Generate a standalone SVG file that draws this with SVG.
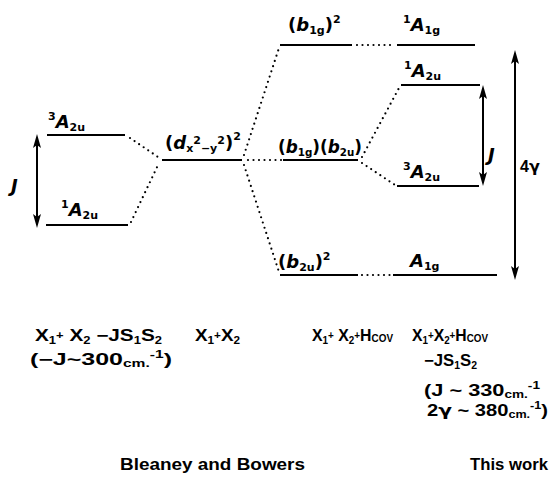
<svg xmlns="http://www.w3.org/2000/svg" width="555" height="480" viewBox="0 0 555 480">
<style>
.lvl{stroke:#000;stroke-width:2;fill:none}
.dot{stroke:#000;stroke-width:2.2;stroke-linecap:round;stroke-dasharray:0 5.5;fill:none}
.arr{stroke:#000;stroke-width:2;fill:none;marker-start:url(#ah);marker-end:url(#ah)}
.lb{font-family:"DejaVu Sans",sans-serif;font-style:italic;font-weight:bold;font-size:18px;fill:#000}
.tx{font-family:"Liberation Sans",Arial,sans-serif;font-weight:bold;font-size:16px;fill:#000}
.g{font-family:"DejaVu Sans",sans-serif}
.s{font-size:11px;font-style:normal}
.ss{font-size:10px}
</style>
<defs>
<marker id="ah" viewBox="0 0 14 8" refX="10" refY="4" markerWidth="14" markerHeight="8" markerUnits="userSpaceOnUse" orient="auto-start-reverse"><path d="M0,0 L14,4 L0,8 L3,4 z" fill="#000"/></marker>
</defs>
<g id="connectors">
<path class="dot" d="M130,138 L158,157"/>
<path class="dot" d="M131,222 L159,163"/>
<path class="dot" d="M244,155 L279,48"/>
<path class="dot" d="M248,160 L282,160"/>
<path class="dot" d="M244,165 L279,272"/>
<path class="dot" d="M357,45 L394,45"/>
<path class="dot" d="M362,157 L399,88"/>
<path class="dot" d="M362,163 L395,185"/>
<path class="dot" d="M362,275 L391,275"/>
<line class="arr" x1="37" y1="138" x2="37" y2="224"/>
<line class="arr" x1="483" y1="89" x2="483" y2="182"/>
<line class="arr" x1="515" y1="54" x2="515" y2="276"/>
</g>
<g id="left-3A2u">
<line class="lvl" x1="47" y1="135" x2="125" y2="135"/>
<text class="lb" x="48" y="128"><tspan class="s" dy="-8">3</tspan><tspan dy="8">A</tspan><tspan class="s" dy="3">2u</tspan></text>
</g>
<g id="left-1A2u">
<line class="lvl" x1="46" y1="225" x2="128" y2="225"/>
<text class="lb" x="61" y="216"><tspan class="s" dy="-8">1</tspan><tspan dy="8">A</tspan><tspan class="s" dy="3">2u</tspan></text>
</g>
<g id="left-J"><text class="lb" x="11" y="192" font-size="20">J</text></g>
<g id="center-d">
<line class="lvl" x1="162" y1="160" x2="242" y2="160"/>
<text class="lb" x="165" y="149"><tspan font-style="normal">(</tspan>d<tspan class="s" dy="3" font-style="italic">x</tspan><tspan class="s" dy="-8">2</tspan><tspan class="s" dy="8" font-style="italic">−y</tspan><tspan class="s" dy="-8">2</tspan><tspan dy="5" font-style="normal">)</tspan><tspan class="s" dy="-9">2</tspan></text>
</g>
<g id="b1g2">
<line class="lvl" x1="280" y1="45" x2="352" y2="45"/>
<text class="lb" x="288" y="31"><tspan font-style="normal">(</tspan>b<tspan class="s" dy="3">1g</tspan><tspan dy="-3" font-style="normal">)</tspan><tspan class="s" dy="-8">2</tspan></text>
</g>
<g id="r-1A1g">
<line class="lvl" x1="397" y1="45" x2="475" y2="45"/>
<text class="lb" x="403" y="31"><tspan class="s" dy="-8">1</tspan><tspan dy="8">A</tspan><tspan class="s" dy="3">1g</tspan></text>
</g>
<g id="b1gb2u">
<line class="lvl" x1="283" y1="160" x2="358" y2="160"/>
<text class="lb" x="278" y="153" textLength="84" lengthAdjust="spacingAndGlyphs"><tspan font-style="normal">(</tspan>b<tspan class="s" dy="3">1g</tspan><tspan dy="-3" font-style="normal">)(</tspan>b<tspan class="s" dy="3">2u</tspan><tspan dy="-3" font-style="normal">)</tspan></text>
</g>
<g id="r-1A2u">
<line class="lvl" x1="401" y1="85" x2="480" y2="85"/>
<text class="lb" x="404" y="77"><tspan class="s" dy="-8">1</tspan><tspan dy="8">A</tspan><tspan class="s" dy="3">2u</tspan></text>
</g>
<g id="r-3A2u">
<line class="lvl" x1="397" y1="186" x2="479" y2="186"/>
<text class="lb" x="403" y="178"><tspan class="s" dy="-8">3</tspan><tspan dy="8">A</tspan><tspan class="s" dy="3">2u</tspan></text>
</g>
<g id="b2u2">
<line class="lvl" x1="280" y1="275" x2="358" y2="275"/>
<text class="lb" x="278" y="268"><tspan font-style="normal">(</tspan>b<tspan class="s" dy="3">2u</tspan><tspan dy="-3" font-style="normal">)</tspan><tspan class="s" dy="-8">2</tspan></text>
</g>
<g id="r-A1g">
<line class="lvl" x1="393" y1="275" x2="497" y2="275"/>
<text class="lb" x="410" y="267">A<tspan class="s" dy="3">1g</tspan></text>
</g>
<g id="right-J"><text class="lb" x="488" y="161" font-size="20">J</text></g>
<g id="four-gamma"><text class="tx" x="520" y="172" font-size="19">4<tspan class="g">γ</tspan></text></g>
<g id="captions">
<text class="tx" x="35" y="341" textLength="127" lengthAdjust="spacingAndGlyphs">X<tspan class="ss" dy="3">1</tspan><tspan class="ss" dy="-5">+</tspan><tspan dy="2"> X</tspan><tspan class="ss" dy="3">2</tspan><tspan dy="-3"> −JS</tspan><tspan class="ss" dy="3">1</tspan><tspan dy="-3">S</tspan><tspan class="ss" dy="3">2</tspan></text>
<text class="tx" x="30" y="365" font-size="17" textLength="142" lengthAdjust="spacingAndGlyphs">(−J~300<tspan class="ss" dy="2">cm.</tspan><tspan class="ss" dy="-9">-1</tspan><tspan dy="7">)</tspan></text>
<text class="tx" x="195" y="341" textLength="45" lengthAdjust="spacingAndGlyphs">X<tspan class="ss" dy="3">1</tspan><tspan class="ss" dy="-5">+</tspan><tspan dy="2">X</tspan><tspan class="ss" dy="3">2</tspan></text>
<text class="tx" x="312" y="341" textLength="81" lengthAdjust="spacingAndGlyphs">X<tspan class="ss" dy="3">1</tspan><tspan class="ss" dy="-5">+</tspan><tspan dy="2"> X</tspan><tspan class="ss" dy="3">2</tspan><tspan class="ss" dy="-5">+</tspan><tspan dy="2">H</tspan><tspan class="ss" dy="1">COV</tspan></text>
<text class="tx" x="412" y="341" textLength="76" lengthAdjust="spacingAndGlyphs">X<tspan class="ss" dy="3">1</tspan><tspan class="ss" dy="-5">+</tspan><tspan dy="2">X</tspan><tspan class="ss" dy="3">2</tspan><tspan class="ss" dy="-5">+</tspan><tspan dy="2">H</tspan><tspan class="ss" dy="1">COV</tspan></text>
<text class="tx" x="424" y="366" textLength="53" lengthAdjust="spacingAndGlyphs">−JS<tspan class="ss" dy="3">1</tspan><tspan dy="-3">S</tspan><tspan class="ss" dy="3">2</tspan></text>
<text class="tx" x="424" y="396" font-size="17" textLength="116" lengthAdjust="spacingAndGlyphs">(J ~ 330<tspan class="ss" dy="2">cm.</tspan><tspan class="ss" dy="-9">-1</tspan></text>
<text class="tx" x="427" y="416" font-size="17" textLength="121" lengthAdjust="spacingAndGlyphs">2<tspan class="g">γ</tspan> ~ 380<tspan class="ss" dy="2">cm.</tspan><tspan class="ss" dy="-9">-1</tspan><tspan dy="7">)</tspan></text>
<text class="tx" x="120" y="470" textLength="185" lengthAdjust="spacingAndGlyphs">Bleaney and Bowers</text>
<text class="tx" x="470" y="470" textLength="78" lengthAdjust="spacingAndGlyphs">This work</text>
</g>
</svg>
